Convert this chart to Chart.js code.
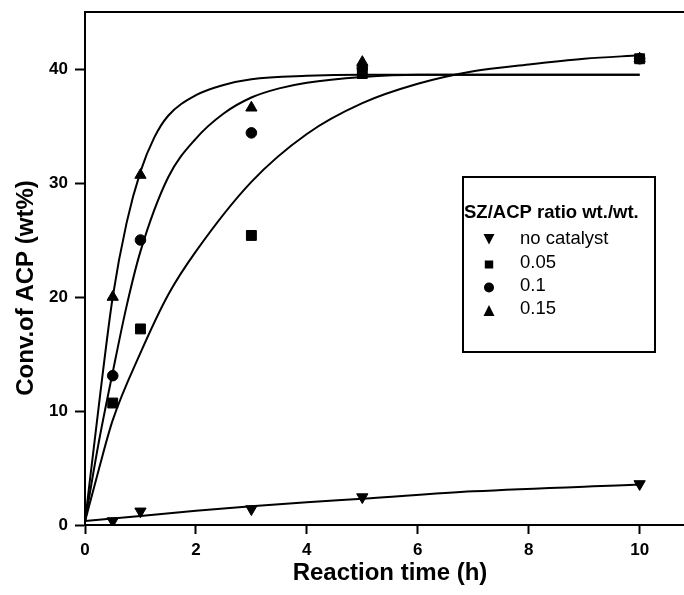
<!DOCTYPE html>
<html><head><meta charset="utf-8">
<script src="https://cdn.jsdelivr.net/npm/chart.js@4/dist/chart.umd.min.js"></script>
<style>html,body{margin:0;padding:0;background:#fff;}#wrap{position:relative;width:684px;height:595px;}</style>
</head><body><div id="wrap"><canvas id="c" width="684" height="595"></canvas></div>
<script>
const xTicks = [0, 2, 4, 6, 8, 10];
const yTicks = [0, 10, 20, 30, 40];
const seriesNames = ['no catalyst', '0.05', '0.1', '0.15'];
const legendTitle = 'SZ/ACP ratio wt./wt.';
const xTitle = 'Reaction time (h)';
const yTitle = 'Conv.of ACP (wt%)';

// measured points
const ncX  = [0.5, 1, 3, 5, 10];
const ncY  = [0.35, 1.2, 1.4, 2.45, 3.6];
const s05X = [0.5, 1, 3, 5, 10];
const s05Y = [10.7, 17.2, 25.4, 39.6, 40.9];
const s10X = [0.5, 1, 3, 5, 10];
const s10Y = [13.1, 25.0, 34.4, 40.1, 40.9];
const s15X = [0.5, 1, 3, 5, 10];
const s15Y = [20.0, 30.7, 36.6, 40.6, 40.9];

// fitted curves
const ncFitX  = [0, 1, 2, 3, 4, 5, 7, 10];
const ncFitY  = [0.35, 0.8, 1.25, 1.65, 2.0, 2.3, 2.95, 3.55];
const s05FitX = [0, 0.25, 0.5, 1, 1.5, 2, 3, 4, 5, 6, 7, 8, 9, 10];
const s05FitY = [0.3, 4.9, 9.2, 15.1, 20.2, 24.0, 30.1, 34.3, 37.0, 38.7, 39.8, 40.4, 40.9, 41.2];
const s10FitX = [0, 0.25, 0.5, 0.75, 1, 1.5, 2, 2.5, 3, 3.5, 4, 5, 6, 10];
const s10FitY = [0.3, 7.3, 13.4, 19.2, 24.0, 30.5, 33.9, 36.1, 37.5, 38.3, 38.8, 39.3, 39.5, 39.5];
const s15FitX = [0, 0.25, 0.5, 0.75, 1, 1.25, 1.5, 2, 2.5, 3, 4, 5, 7, 10];
const s15FitY = [0.3, 10.5, 20.0, 26.5, 31.0, 34.0, 35.9, 37.7, 38.6, 39.1, 39.4, 39.5, 39.5, 39.5];

const pts = (xs, ys) => xs.map((x, i) => ({x: x, y: ys[i]}));

function fitDs(xs, ys) {
  return {data: pts(xs, ys), showLine: true, pointRadius: 0, borderColor: '#000', borderWidth: 2,
    cubicInterpolationMode: 'monotone', fill: false, order: 10};
}
function markDs(label, xs, ys, style, r, rot, ord) {
  return {label: label, data: pts(xs, ys), showLine: false, pointStyle: style, pointRadius: r,
    rotation: rot, backgroundColor: '#000', borderColor: '#000', borderWidth: 1, order: ord};
}

const FONT = '"Liberation Sans", Arial, sans-serif';

const decor = {
  id: 'decor',
  afterDraw(chart) {
    const ctx = chart.ctx, a = chart.chartArea;
    ctx.save();
    // top frame line
    ctx.strokeStyle = '#000'; ctx.lineWidth = 2;
    ctx.beginPath(); ctx.moveTo(a.left - 1, a.top); ctx.lineTo(a.right, a.top); ctx.stroke();
    // axis titles
    ctx.fillStyle = '#000';
    ctx.font = 'bold 24px ' + FONT;
    ctx.textAlign = 'center'; ctx.textBaseline = 'alphabetic';
    ctx.fillText(xTitle, 390, 580);
    ctx.save();
    ctx.translate(33, 288);
    ctx.rotate(-Math.PI / 2);
    ctx.fillText(yTitle, 0, 0);
    ctx.restore();
    // legend box
    ctx.lineWidth = 2;
    ctx.strokeRect(463, 177, 192, 175);
    ctx.textAlign = 'left';
    ctx.font = 'bold 18.5px ' + FONT;
    ctx.fillText(legendTitle, 464, 218);
    ctx.font = '18.5px ' + FONT;
    const ys = [244, 267.5, 290.5, 313.5];
    const mx = 489;
    seriesNames.forEach((n, i) => ctx.fillText(n, 520, ys[i]));
    // markers
    ctx.beginPath(); // down triangle
    let cy = 238.5;
    ctx.moveTo(mx - 5.5, cy - 4.5); ctx.lineTo(mx + 5.5, cy - 4.5); ctx.lineTo(mx, cy + 6); ctx.closePath(); ctx.fill();
    ctx.fillRect(mx - 4.2, 260.5, 8.4, 8);
    ctx.beginPath(); ctx.arc(mx, 287.5, 5, 0, Math.PI * 2); ctx.fill();
    ctx.beginPath(); cy = 311;
    ctx.moveTo(mx - 5.5, cy + 5); ctx.lineTo(mx + 5.5, cy + 5); ctx.lineTo(mx, cy - 6); ctx.closePath(); ctx.fill();
    ctx.restore();
  }
};

function setTicks(list) {
  return function (scale) { scale.ticks = list.map(v => ({value: v})); };
}

new Chart(document.getElementById('c'), {
  type: 'scatter',
  data: {
    datasets: [
      fitDs(ncFitX, ncFitY),
      fitDs(s05FitX, s05FitY),
      fitDs(s10FitX, s10FitY),
      fitDs(s15FitX, s15FitY),
      markDs(seriesNames[0], ncX, ncY, 'triangle', 6.5, 180, 4),
      markDs(seriesNames[3], s15X, s15Y, 'triangle', 6.5, 0, 3),
      markDs(seriesNames[2], s10X, s10Y, 'circle', 5.3, 0, 2),
      markDs(seriesNames[1], s05X, s05Y, 'rect', 7, 0, 1)
    ]
  },
  options: {
    responsive: false, animation: false, devicePixelRatio: 1,
    layout: {autoPadding: false, padding: {top: 12, left: 0, right: 0, bottom: 0}},
    plugins: {legend: {display: false}, tooltip: {enabled: false}},
    scales: {
      x: {
        type: 'linear', min: 0, max: 10.8,
        afterBuildTicks: setTicks(xTicks),
        afterFit: s => { s.height = 70; s.paddingLeft = 0; s.paddingRight = 0; },
        ticks: {color: '#000', font: {family: FONT, size: 17, weight: 'bold'}, padding: 6, maxRotation: 0, autoSkip: false},
        grid: {drawOnChartArea: false, drawTicks: true, tickLength: 9, tickWidth: 2, tickColor: '#000'},
        border: {display: true, color: '#000', width: 2}
      },
      y: {
        type: 'linear', min: 0, max: 45,
        afterBuildTicks: setTicks(yTicks),
        afterFit: s => { s.width = 85; s.paddingTop = 0; s.paddingBottom = 0; },
        ticks: {color: '#000', font: {family: FONT, size: 17, weight: 'bold'}, padding: 7, autoSkip: false},
        grid: {drawOnChartArea: false, drawTicks: true, tickLength: 10, tickWidth: 2, tickColor: '#000'},
        border: {display: true, color: '#000', width: 2}
      }
    }
  },
  plugins: [decor]
});
</script></body></html>
